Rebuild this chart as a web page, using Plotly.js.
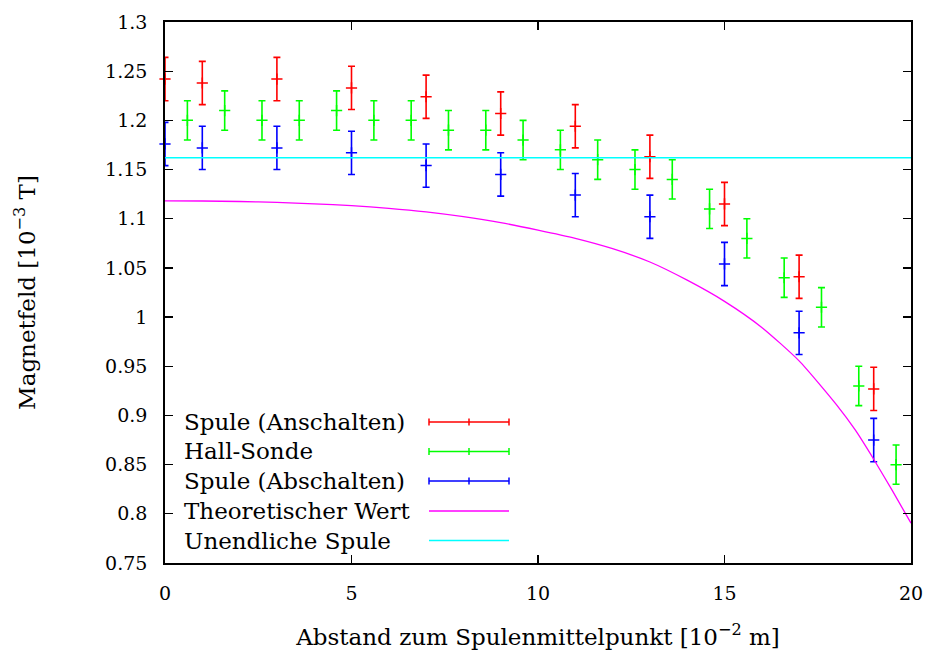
<!DOCTYPE html>
<html>
<head>
<meta charset="utf-8">
<script src="https://cdn.plot.ly/plotly-3.0.1.min.js"></script>
<style>html,body{margin:0;padding:0;background:#fff;}#chart{width:930px;height:653px;}</style>
</head>
<body>
<div id="chart"></div>
<script>
// ---- data ----
const spuleX = [0, 1, 3, 5, 7, 9, 11, 13, 15, 17, 19];
const anschaltenY = [1.242, 1.238, 1.242, 1.233, 1.224, 1.207, 1.194, 1.163, 1.115, 1.041, 0.927];
const abschaltenY = [1.176, 1.172, 1.172, 1.167, 1.154, 1.145, 1.124, 1.102, 1.054, 0.984, 0.875];
const spuleErr = 0.022;

const hallX = [0.6, 1.6, 2.6, 3.6, 4.6, 5.6, 6.6, 7.6, 8.6, 9.6, 10.6, 11.6, 12.6, 13.6, 14.6, 15.6, 16.6, 17.6, 18.6, 19.6];
const hallY = [1.20, 1.21, 1.20, 1.20, 1.21, 1.20, 1.20, 1.19, 1.19, 1.18, 1.17, 1.16, 1.15, 1.14, 1.11, 1.08, 1.04, 1.01, 0.93, 0.85];
const hallErr = 0.02;

const theoX = [0, 1, 2, 3, 4, 5, 6, 7, 8, 9, 10, 11, 12, 13, 14, 15, 16, 17, 18, 18.5, 19, 19.5, 20];
const theoY = [1.1182, 1.1180, 1.1175, 1.1166, 1.1152, 1.1133, 1.1106, 1.1070, 1.1021, 1.0960, 1.0884, 1.0800, 1.0695, 1.0560, 1.0375, 1.0160, 0.9895, 0.9555, 0.9110, 0.8855, 0.8555, 0.8235, 0.7905];

const unendlichX = [0, 20];
const unendlichY = [1.162, 1.162];

const xTicks = [0, 5, 10, 15, 20];
const xTickText = ['0', '5', '10', '15', '20'];
const yTicks = [0.75, 0.8, 0.85, 0.9, 0.95, 1, 1.05, 1.1, 1.15, 1.2, 1.25, 1.3];
const yTickText = ['0.75', '0.8', '0.85', '0.9', '0.95', '1', '1.05', '1.1', '1.15', '1.2', '1.25', '1.3'];

const legendNames = ['Spule (Anschalten)', 'Hall-Sonde', 'Spule (Abschalten)', 'Theoretischer Wert', 'Unendliche Spule'];
const legendColors = ['#ff0000', '#00ff00', '#0000ff', '#ff00ff', '#00ffff'];
const legendIsErr = [true, true, true, false, false];

// ---- plot ----
const FONT = "'DejaVu Serif', serif";

function errTrace(x, y, err, color, name) {
  return {
    x: x, y: y, name: name, type: 'scatter', mode: 'markers',
    marker: {symbol: 'cross-thin-open', size: 8, color: color, line: {color: color, width: 1.5}},
    error_y: {type: 'constant', value: err, width: 3.5, thickness: 1.6, color: color},
    showlegend: false, cliponaxis: false
  };
}

const traces = [
  errTrace(spuleX, anschaltenY, spuleErr, legendColors[0], legendNames[0]),
  errTrace(hallX, hallY, hallErr, legendColors[1], legendNames[1]),
  errTrace(spuleX, abschaltenY, spuleErr, legendColors[2], legendNames[2]),
  {x: theoX, y: theoY, name: legendNames[3], type: 'scatter', mode: 'lines',
   line: {color: legendColors[3], width: 1.3, shape: 'spline', smoothing: 0.6}, showlegend: false},
  {x: unendlichX, y: unendlichY, name: legendNames[4], type: 'scatter', mode: 'lines',
   line: {color: legendColors[4], width: 1.5}, showlegend: false}
];

// custom gnuplot-style legend (text left, sample right)
const PL = 165, PR = 911, PT = 22, PB = 563;
const pw = PR - PL, ph = PB - PT;
const px = v => (v - PL) / pw;
const py = v => (PB - v) / ph;
const rowY = [422, 451.5, 481, 511, 540.5];
const annotations = [], shapes = [];
legendNames.forEach((n, i) => {
  annotations.push({xref: 'paper', yref: 'paper', x: px(182), y: py(rowY[i]), xanchor: 'left', yanchor: 'middle',
    text: n, showarrow: false, font: {family: FONT, size: 23, color: '#000'}});
  const c = legendColors[i];
  const lw = legendIsErr[i] ? 1.6 : 1.3;
  shapes.push({type: 'line', xref: 'paper', yref: 'paper', x0: px(429), x1: px(509), y0: py(rowY[i]), y1: py(rowY[i]), line: {color: c, width: lw}});
  if (legendIsErr[i]) {
    [429, 469, 509].forEach(xx => {
      shapes.push({type: 'line', xref: 'paper', yref: 'paper', x0: px(xx), x1: px(xx), y0: py(rowY[i] - 3.5), y1: py(rowY[i] + 3.5), line: {color: c, width: 1.5}});
    });
  }
});

const axisCommon = {
  showline: true, mirror: 'allticks', linecolor: '#000', linewidth: 1.8,
  ticks: 'inside', ticklen: 8, tickwidth: 1.3, tickcolor: '#000',
  showgrid: false, zeroline: false, tickmode: 'array',
  tickfont: {family: FONT, size: 19, color: '#000'}
};

const layout = {
  width: 930, height: 653,
  margin: {l: PL, r: 930 - PR, t: PT, b: 653 - PB},
  paper_bgcolor: '#fff', plot_bgcolor: '#fff',
  showlegend: false,
  font: {family: FONT, color: '#000'},
  xaxis: Object.assign({}, axisCommon, {
    range: [0, 20], tickvals: xTicks, ticktext: xTickText, ticklabelstandoff: 12,
    title: {text: 'Abstand zum Spulenmittelpunkt [10<sup>−2</sup> m]', font: {family: FONT, size: 23, color: '#000'}, standoff: 26}
  }),
  yaxis: Object.assign({}, axisCommon, {
    range: [0.75, 1.3], tickvals: yTicks, ticktext: yTickText, ticklabelstandoff: 12,
    title: {text: 'Magnetfeld [10<sup>−3</sup> T]', font: {family: FONT, size: 23, color: '#000'}, standoff: 63}
  }),
  annotations: annotations,
  shapes: shapes
};

Plotly.newPlot('chart', traces, layout, {staticPlot: true, displayModeBar: false});
</script>
</body>
</html>
